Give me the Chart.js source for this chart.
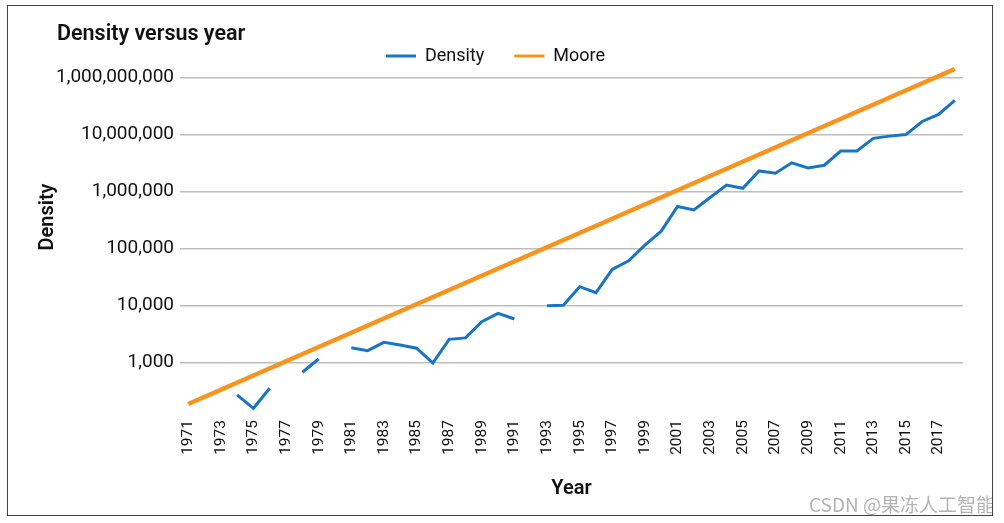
<!DOCTYPE html>
<html>
<head>
<meta charset="utf-8">
<script src="https://cdn.jsdelivr.net/npm/chart.js@4.4.1/dist/chart.umd.min.js"></script>
<style>
  html, body { margin: 0; padding: 0; background: #fff; }
  body { width: 1004px; height: 523px; position: relative; overflow: hidden; }
  #frame { position: absolute; left: 7px; top: 5px; width: 986px; height: 511px; border: 1px solid #444; box-sizing: border-box; overflow: hidden; }
  #wrap { position: absolute; left: 0; top: 0; width: 1004px; height: 523px; }
  #title { position: absolute; left: 57px; top: 20px; font: 600 21.5px Roboto, sans-serif; color: #111; }
  #mark { position: absolute; left: 801px; top: 484px; font: 19px "Noto Sans CJK SC", "Noto Sans", sans-serif; color: #b4b4b4; white-space: nowrap; }
</style>
</head>
<body>
<div id="wrap"><canvas id="densityChart" width="1004" height="523"></canvas></div>
<div id="title">Density versus year</div>
<div id="frame"><div id="mark">CSDN @果冻人工智能</div></div>
<script>
        // Anos (categorias)
        const years = [
            1971, 1972, 1973, 1974, 1975, 1976, 1977, 1978, 1979, 1980,
            1981, 1982, 1983, 1984, 1985, 1986, 1987, 1988, 1989, 1990,
            1991, 1992, 1993, 1994, 1995, 1996, 1997, 1998, 1999, 2000,
            2001, 2002, 2003, 2004, 2005, 2006, 2007, 2008, 2009, 2010,
            2011, 2012, 2013, 2014, 2015, 2016, 2017, 2018
        ];

        // Densidade (null = sem dado)
        const density = [
            null, null, null, 270, 157, 352, null, 673, 1150, null,
            1820, 1610, 2260, 2030, 1780, 980, 2550, 2700, 5200, 7300,
            5800, null, 9900, 10100, 21400, 16800, 43000, 61000, 115000, 202000,
            546000, 475000, 785000, 1300000, 1140000, 2300000, 2100000, 3200000, 2600000, 2900000,
            5150000, 5150000, 8600000, 9400000, 10000000, 17000000, 22600000, 40000000
        ];

        // Lei de Moore: só os extremos, a reta liga os dois
        const moore = years.map(() => null);
        moore[0] = 187;
        moore[years.length - 1] = 142000000;

        // Marcas do eixo Y (o rótulo de cima é assim mesmo no original)
        const yTickValues = [1000, 10000, 100000, 1000000, 10000000, 100000000];
        const yTickLabels = ['1,000', '10,000', '100,000', '1,000,000', '10,000,000', '1,000,000,000'];

        const FONT = 'Roboto, sans-serif';

        // Título do eixo Y um pouco acima do centro, como no original
        const yTitlePlugin = {
            id: 'yTitle',
            afterDraw(chart) {
                const area = chart.chartArea;
                const c = chart.ctx;
                c.save();
                c.translate(48, (area.top + area.bottom) / 2 - 24);
                c.rotate(-Math.PI / 2);
                c.font = '600 20px ' + FONT;
                c.fillStyle = '#111';
                c.textAlign = 'center';
                c.textBaseline = 'middle';
                c.fillText('Density', 0, 0);
                c.restore();
            }
        };

        const ctx = document.getElementById('densityChart').getContext('2d');
        new Chart(ctx, {
            type: 'line',
            data: {
                labels: years,
                datasets: [{
                    label: 'Density',
                    data: density,
                    borderColor: '#1874C4',
                    backgroundColor: '#1874C4',
                    borderWidth: 3,
                    pointRadius: 0,
                    tension: 0,
                    spanGaps: false
                }, {
                    label: 'Moore',
                    data: moore,
                    borderColor: '#F7941D',
                    backgroundColor: '#F7941D',
                    borderWidth: 4.5,
                    pointRadius: 0,
                    tension: 0,
                    spanGaps: true,
                    clip: false
                }]
            },
            options: {
                responsive: false,
                animation: false,
                layout: {
                    padding: { left: 28, right: 41, top: 17, bottom: 22 }
                },
                scales: {
                    x: {
                        type: 'category',
                        offset: true,
                        grid: { display: false, drawTicks: false },
                        border: { display: false },
                        ticks: {
                            autoSkip: false,
                            minRotation: 90,
                            maxRotation: 90,
                            padding: 4,
                            color: '#111',
                            font: { family: FONT, size: 15.5 },
                            callback: function(value, index) {
                                return index % 2 === 0 ? years[index] : '';
                            }
                        },
                        title: {
                            display: true,
                            text: 'Year',
                            color: '#111',
                            font: { family: FONT, size: 20, weight: '600' },
                            padding: 0
                        },
                        afterFit: function(scale) { scale.height = 85; }
                    },
                    y: {
                        type: 'logarithmic',
                        min: 115,
                        max: 160000000,
                        border: { display: false },
                        grid: { color: '#BDBDBD', lineWidth: 1.5, drawTicks: false },
                        afterBuildTicks: function(scale) {
                            scale.ticks = yTickValues.map(v => ({ value: v }));
                        },
                        ticks: {
                            padding: 6,
                            color: '#111',
                            font: { family: FONT, size: 19 },
                            callback: function(value, index) {
                                return yTickLabels[index];
                            }
                        },
                        afterFit: function(scale) { scale.width = 152; }
                    }
                },
                plugins: {
                    legend: {
                        position: 'top',
                        maxHeight: 49,
                        labels: {
                            boxWidth: 30,
                            boxHeight: 3,
                            padding: 30,
                            color: '#111',
                            font: { family: FONT, size: 18 },
                            generateLabels: function(chart) {
                                const items = Chart.defaults.plugins.legend.labels.generateLabels(chart);
                                items.forEach(i => { i.fillStyle = i.strokeStyle; i.lineWidth = 0; });
                                return items;
                            }
                        }
                    },
                    tooltip: { enabled: false }
                }
            },
            plugins: [yTitlePlugin]
        });
</script>
</body>
</html>
